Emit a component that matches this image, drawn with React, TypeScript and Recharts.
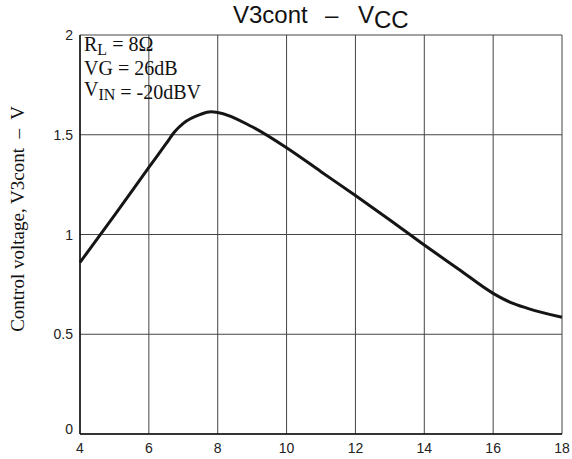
import React from 'react';
import { LineChart, Line, XAxis, YAxis, CartesianGrid } from 'recharts';

// supply voltage (V) and control voltage (V)
const vccValues = [4, 5, 6, 6.5, 6.75, 7, 7.5, 7.8, 8, 9, 10, 11, 12, 13, 14, 15, 16, 16.5, 17, 18];
const v3contValues = [0.86, 1.096, 1.336, 1.455, 1.515, 1.557, 1.602, 1.615, 1.612, 1.54, 1.435, 1.315, 1.195, 1.073, 0.947, 0.826, 0.705, 0.66, 0.63, 0.585];

const xTicks = [4, 6, 8, 10, 12, 14, 16, 18];
const yTicks = [0, 0.5, 1, 1.5, 2];

const data = vccValues.map((vcc, i) => ({ vcc, v: v3contValues[i] }));

const SANS = '"Liberation Sans", Arial, sans-serif';
const SERIF = '"Liberation Serif", "Times New Roman", serif';

const XTick = ({ x, y, payload }: any) => (
  <text x={x} y={y + 13} textAnchor="middle" fontFamily={SANS} fontSize={14} fill="#222">
    {payload.value}
  </text>
);

const YTick = ({ x, y, payload }: any) => (
  <text
    x={x - 1}
    y={payload.value === 0 ? y : y + 5}
    textAnchor="end"
    fontFamily={SANS}
    fontSize={14}
    fill="#222"
  >
    {payload.value}
  </text>
);

export default function App() {
  return (
    <div style={{ position: 'absolute', left: 0, top: 0, width: 572, height: 459, background: '#fff' }}>
      <LineChart width={572} height={459} data={data} margin={{ top: 35, right: 10, bottom: 0, left: 0 }}>
        <CartesianGrid stroke="#444" strokeWidth={1} />
        <XAxis
          dataKey="vcc"
          type="number"
          domain={[4, 18]}
          ticks={xTicks}
          interval={0}
          height={25}
          tickSize={4}
          tickLine={false}
          axisLine={{ stroke: '#111', strokeWidth: 1.5 }}
          tick={<XTick />}
        />
        <XAxis
          xAxisId="top"
          orientation="top"
          dataKey="vcc"
          type="number"
          domain={[4, 18]}
          height={0}
          tick={false}
          tickLine={false}
          axisLine={{ stroke: '#111', strokeWidth: 1.5 }}
        />
        <YAxis
          type="number"
          domain={[0, 2]}
          ticks={yTicks}
          interval={0}
          width={80}
          tickSize={4}
          tickLine={false}
          axisLine={{ stroke: '#111', strokeWidth: 1.5 }}
          tick={<YTick />}
        />
        <YAxis
          yAxisId="right"
          orientation="right"
          type="number"
          domain={[0, 2]}
          width={0}
          tick={false}
          tickLine={false}
          axisLine={{ stroke: '#111', strokeWidth: 1.5 }}
        />
        <Line
          type="monotone"
          dataKey="v"
          stroke="#151515"
          strokeWidth={3}
          dot={false}
          isAnimationActive={false}
        />
      </LineChart>
      <svg
        width={572}
        height={459}
        style={{ position: 'absolute', left: 0, top: 0, pointerEvents: 'none' }}
      >
        <text x={233} y={23} fontFamily={SANS} fontSize={24} fill="#111" xmlSpace="preserve">
          <tspan>V3cont</tspan>
          <tspan x={325}>–</tspan>
          <tspan x={358}>V</tspan>
          <tspan dy={5}>CC</tspan>
        </text>
        <g fontFamily={SERIF} fontSize={20} fill="#111">
          <text x={84} y={51}>
            R<tspan fontSize={16} dy={4}>L</tspan>
            <tspan dy={-4}> = 8Ω</tspan>
          </text>
          <text x={84} y={75}>VG = 26dB</text>
          <text x={84} y={96}>
            V<tspan fontSize={16} dy={4}>IN</tspan>
            <tspan dy={-1}> = -20dBV</tspan>
          </text>
        </g>
        <text
          transform="translate(24,219) rotate(-90)"
          textAnchor="middle"
          fontFamily={SERIF}
          fontSize={19}
          fill="#111"
          xmlSpace="preserve"
        >
          Control voltage, V3cont  –  V
        </text>
      </svg>
    </div>
  );
}
